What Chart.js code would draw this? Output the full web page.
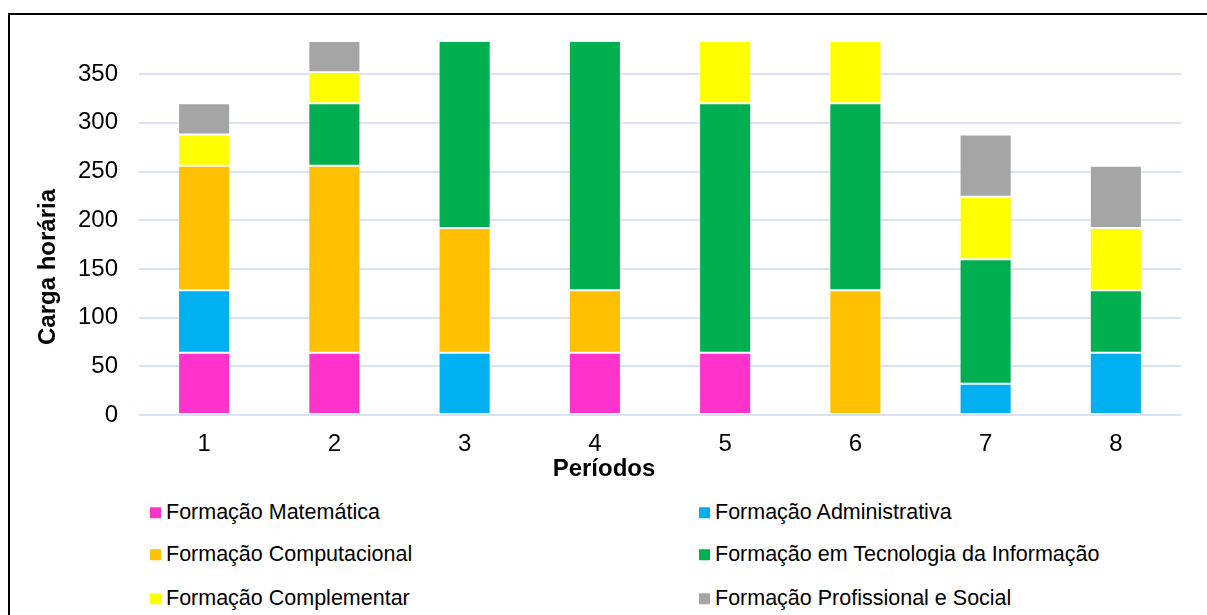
<!DOCTYPE html>
<html>
<head>
<meta charset="utf-8">
<script src="https://cdn.jsdelivr.net/npm/chart.js@4/dist/chart.umd.min.js"></script>
<style>
  html, body { margin: 0; padding: 0; background: #fff; width: 1207px; height: 615px; overflow: hidden; }
  #frame { position: absolute; left: 8px; top: 13px; width: 1300px; height: 700px; border-left: 2px solid #000; border-top: 2px solid #000; box-sizing: border-box; }
  #c { position: absolute; left: 0; top: 0; }
  .ttl { position: absolute; font-family: "Liberation Sans", Arial, sans-serif; font-weight: bold; font-size: 24px; color: #000; white-space: nowrap; line-height: 1; }
  #xt { left: 604px; top: 468px; transform: translate(-50%, -50%); }
  #yt { left: 47px; top: 267px; transform: translate(-50%, -50%) rotate(-90deg); }
  .lg { position: absolute; font-family: "Liberation Sans", Arial, sans-serif; font-size: 21.5px; color: #000; white-space: nowrap; display: flex; align-items: center; line-height: 1; transform: translateY(-50%); }
  .lg span.box { display: inline-block; width: 11px; height: 11px; margin-right: 5px; }
</style>
</head>
<body>
<div id="frame"></div>
<canvas id="c" width="1207" height="490"></canvas>
<div class="ttl" id="xt">Períodos</div>
<div class="ttl" id="yt">Carga horária</div>
<div id="legend"></div>
<script>
const periods = ['1', '2', '3', '4', '5', '6', '7', '8'];
const seriesNames = [
  'Formação Matemática',
  'Formação Administrativa',
  'Formação Computacional',
  'Formação em Tecnologia da Informação',
  'Formação Complementar',
  'Formação Profissional e Social'
];
const matematica     = [64, 64, 0, 64, 64, 0, 0, 0];
const administrativa = [64, 0, 64, 0, 0, 0, 32, 64];
const computacional  = [128, 192, 128, 64, 0, 128, 0, 0];
const tecnologia     = [0, 64, 192, 256, 256, 192, 128, 64];
const complementar   = [32, 32, 0, 0, 64, 64, 64, 64];
const profissional   = [32, 32, 0, 0, 0, 0, 64, 64];
const yTickValues = [0, 50, 100, 150, 200, 250, 300, 350];
const colors = ['#FF33CC', '#00B0F0', '#FFC000', '#00B050', '#FFFF00', '#A5A5A5'];

const seriesData = [matematica, administrativa, computacional, tecnologia, complementar, profissional];

const datasets = seriesData.map((d, i) => ({
  label: seriesNames[i],
  data: d,
  backgroundColor: colors[i],
  borderColor: 'rgba(255,255,255,0.35)',
  borderWidth: 1,
  borderSkipped: false,
  categoryPercentage: 0.8,
  barPercentage: 0.5
}));

const chart = new Chart(document.getElementById('c'), {
  type: 'bar',
  data: { labels: periods, datasets },
  options: {
    responsive: false,
    animation: false,
    devicePixelRatio: 1,
    layout: { padding: { top: 41, left: 0, right: 26, bottom: 0 } },
    plugins: { legend: { display: false }, tooltip: { enabled: false }, title: { display: false } },
    scales: {
      x: {
        stacked: true,
        grid: { display: false, drawTicks: false },
        border: { display: false },
        ticks: { color: '#000', font: { family: 'Liberation Sans', size: 24 }, padding: 15 },
        afterFit: s => { s.height = 75; }
      },
      y: {
        stacked: true,
        min: 0,
        max: 384,
        afterBuildTicks: s => { s.ticks = yTickValues.map(v => ({ value: v })); },
        grid: { color: '#D9E2F3', lineWidth: 2, drawTicks: false },
        border: { display: false },
        ticks: { color: '#000', font: { family: 'Liberation Sans', size: 24 }, padding: 21 },
        afterFit: s => { s.width = 139; }
      }
    }
  }
});

// HTML legend built from the chart's datasets (two columns)
const legend = document.getElementById('legend');
const colX = [150, 699];
const rowY = [512.5, 555, 598.5];
chart.data.datasets.forEach((ds, i) => {
  const el = document.createElement('div');
  el.className = 'lg';
  el.style.left = colX[i % 2] + 'px';
  el.style.top = rowY[Math.floor(i / 2)] + 'px';
  const box = document.createElement('span');
  box.className = 'box';
  box.style.background = ds.backgroundColor;
  el.appendChild(box);
  el.appendChild(document.createTextNode(ds.label));
  legend.appendChild(el);
});
</script>
</body>
</html>
